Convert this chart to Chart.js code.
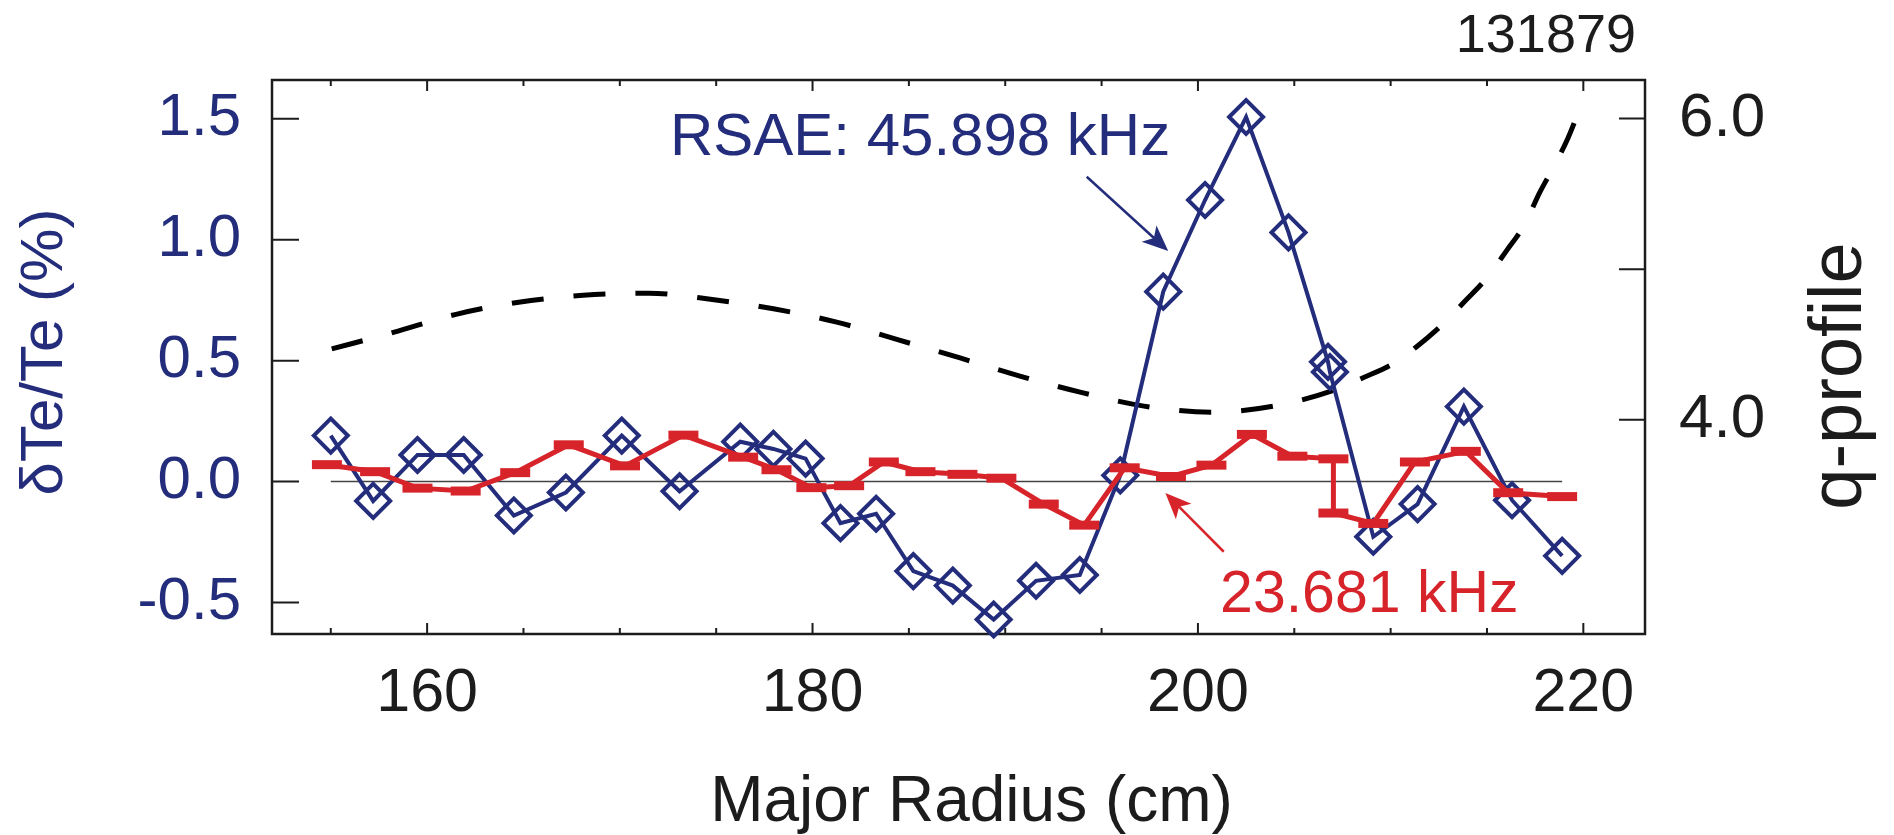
<!DOCTYPE html>
<html>
<head>
<meta charset="utf-8">
<script src="https://cdn.jsdelivr.net/npm/chart.js@4.4.1/dist/chart.umd.min.js"></script>
<style>
  html, body { margin: 0; padding: 0; background: #fff; }
  #wrap { width: 1894px; height: 835px; position: relative; }
</style>
</head>
<body>
<div id="wrap"><canvas id="chartTe"></canvas></div>
<script>
// shot 131879 : dTe/Te profiles and q-profile vs major radius
const rsaeRadius = [155.0, 157.2, 159.5, 161.9, 164.5, 167.2, 170.1, 173.1, 176.25, 177.97, 179.64, 181.45, 183.3, 185.23, 187.28, 189.4, 191.6, 193.87, 195.97, 198.2, 200.37, 202.5, 204.7, 206.75, 206.85, 209.1, 211.4, 213.8, 216.3, 218.9];
const rsaeDte    = [0.19, -0.08, 0.11, 0.11, -0.14, -0.045, 0.19, -0.04, 0.165, 0.135, 0.095, -0.172, -0.133, -0.37, -0.43, -0.57, -0.41, -0.386, 0.026, 0.785, 1.164, 1.507, 1.03, 0.495, 0.453, -0.228, -0.093, 0.31, -0.077, -0.307];

const lowRadius = [154.8, 157.3, 159.5, 162.0, 164.57, 167.35, 170.27, 173.3, 176.4, 178.13, 179.94, 181.9, 183.7, 185.6, 187.78, 189.8, 192.0, 194.1, 196.2, 198.6, 200.7, 202.8, 204.9, 207.03, 207.03, 209.1, 211.26, 213.9, 216.1, 218.9];
const lowDte    = [0.07, 0.041, -0.027, -0.039, 0.037, 0.152, 0.065, 0.192, 0.101, 0.049, -0.025, -0.017, 0.081, 0.041, 0.03, 0.014, -0.093, -0.18, 0.057, 0.021, 0.068, 0.195, 0.105, 0.094, -0.13, -0.173, 0.081, 0.125, -0.046, -0.062];

const qRadius = [155.05, 158.25, 161.5, 164.75, 168.1, 171.5, 174.7, 177.97, 181.2, 184.46, 187.66, 190.76, 193.99, 197.2, 200.7, 203.93, 207.16, 208.6, 210.1, 211.3, 212.75, 213.8, 214.98, 216.0, 216.97, 217.7, 218.46, 219.2, 219.95];
const qValues = [4.47, 4.58, 4.70, 4.78, 4.826, 4.84, 4.80, 4.737, 4.65, 4.53, 4.41, 4.29, 4.18, 4.09, 4.05, 4.09, 4.20, 4.28, 4.37, 4.48, 4.64, 4.78, 4.94, 5.12, 5.30, 5.50, 5.68, 5.87, 6.11];

const zeroRadius = [155.0, 218.9];
const zeroLevel  = [0, 0];

const xTickValues  = [155, 160, 165, 170, 175, 180, 185, 190, 195, 200, 205, 210, 215, 220];
const xLabelValues = [160, 180, 200, 220];
const dteTicks = [-0.5, 0.0, 0.5, 1.0, 1.5];
const qTicks   = [4.0, 5.0, 6.0];
const qLabels  = [4.0, 6.0];

const BLUE = "#232d7c";
const RED  = "#d7242a";
const INK  = "#1c1c1c";
const FONT = '"Liberation Sans", Arial, Helvetica, sans-serif';

const pts = (xs, ys) => xs.map((v, i) => ({ x: v, y: ys[i] }));

function arrow(ctx, x0, y0, x1, y1, color, width) {
  const ang = Math.atan2(y1 - y0, x1 - x0);
  const L = 26, W = 11;
  ctx.strokeStyle = color; ctx.fillStyle = color; ctx.lineWidth = width;
  ctx.beginPath();
  ctx.moveTo(x0, y0);
  ctx.lineTo(x1 - Math.cos(ang) * L * 0.7, y1 - Math.sin(ang) * L * 0.7);
  ctx.stroke();
  ctx.save();
  ctx.translate(x1, y1); ctx.rotate(ang);
  ctx.beginPath();
  ctx.moveTo(0, 0); ctx.lineTo(-L, -W); ctx.lineTo(-L * 0.75, 0); ctx.lineTo(-L, W);
  ctx.closePath(); ctx.fill();
  ctx.restore();
}

function text(ctx, str, px, py, size, color, align, rot) {
  ctx.save();
  ctx.translate(px, py);
  if (rot) ctx.rotate(rot);
  ctx.font = size + "px " + FONT;
  ctx.fillStyle = color;
  ctx.textAlign = align;
  ctx.textBaseline = "alphabetic";
  ctx.fillText(str, 0, 0);
  ctx.restore();
}

// frame, inward ticks, titles and annotations
const decor = {
  id: "decor",
  beforeDatasetsDraw(chart) {
    const { ctx, chartArea: a, scales: { x, y, y2 } } = chart;
    ctx.save();
    ctx.strokeStyle = INK;
    ctx.lineWidth = 2.5;
    ctx.strokeRect(a.left, a.top, a.right - a.left, a.bottom - a.top);
    ctx.lineWidth = 2;
    ctx.beginPath();
    xTickValues.forEach(v => {
      const px = x.getPixelForValue(v);
      const len = xLabelValues.includes(v) ? 11 : 6;
      ctx.moveTo(px, a.bottom); ctx.lineTo(px, a.bottom - len);
      ctx.moveTo(px, a.top);    ctx.lineTo(px, a.top + len);
    });
    dteTicks.forEach(v => {
      const py = y.getPixelForValue(v);
      ctx.moveTo(a.left, py); ctx.lineTo(a.left + 27, py);
    });
    qTicks.forEach(v => {
      const py = y2.getPixelForValue(v);
      ctx.moveTo(a.right, py); ctx.lineTo(a.right - 26, py);
    });
    ctx.stroke();
    ctx.restore();
  },
  afterDatasetsDraw(chart) {
    const { ctx, chartArea: a, scales: { x, y } } = chart;
    ctx.save();
    text(ctx, "RSAE: 45.898 kHz", x.getPixelForValue(172.6), y.getPixelForValue(1.349), 60, BLUE, "left");
    text(ctx, "23.681 kHz", x.getPixelForValue(201.15), y.getPixelForValue(-0.538), 59, RED, "left");
    arrow(ctx, x.getPixelForValue(194.23), y.getPixelForValue(1.26),
               x.getPixelForValue(198.46), y.getPixelForValue(0.953), BLUE, 2.5);
    arrow(ctx, x.getPixelForValue(201.34), y.getPixelForValue(-0.29),
               x.getPixelForValue(198.31), y.getPixelForValue(-0.047), RED, 2.5);
    text(ctx, "131879", a.right - 9, a.top - 28, 54, INK, "right");
    text(ctx, "Major Radius (cm)", (a.left + a.right) / 2 + 13, 821, 64, INK, "center");
    text(ctx, "\u03b4Te/Te (%)", 62, 352, 60, BLUE, "center", -Math.PI / 2);
    text(ctx, "q-profile", 1861, 376, 74, INK, "center", -Math.PI / 2);
    ctx.restore();
  }
};

new Chart(document.getElementById("chartTe"), {
  type: "line",
  data: {
    datasets: [
      {
        label: "23.681 kHz",
        data: pts(lowRadius, lowDte),
        yAxisID: "y",
        borderColor: RED, borderWidth: 5, tension: 0,
        pointStyle: "line", pointRadius: 15, pointBorderWidth: 9,
        pointBorderColor: RED, pointBackgroundColor: RED,
        order: 0, clip: false,
      },
      {
        label: "RSAE: 45.898 kHz",
        data: pts(rsaeRadius, rsaeDte),
        yAxisID: "y",
        borderColor: BLUE, borderWidth: 4, tension: 0,
        pointStyle: "rectRot", pointRadius: 17, pointBorderWidth: 4,
        pointBorderColor: BLUE, pointBackgroundColor: "rgba(0,0,0,0)",
        order: 1, clip: false,
      },
      {
        label: "zero",
        data: pts(zeroRadius, zeroLevel),
        yAxisID: "y",
        borderColor: "#444", borderWidth: 1.5, pointRadius: 0,
        order: 2,
      },
      {
        label: "q-profile",
        data: pts(qRadius, qValues),
        yAxisID: "y2",
        borderColor: "#000", borderWidth: 5, borderDash: [32, 30],
        pointRadius: 0, cubicInterpolationMode: "monotone",
        order: 3,
      },
    ]
  },
  options: {
    responsive: true,
    maintainAspectRatio: false,
    animation: false,
    layout: { padding: { top: 80, left: 0, right: 0, bottom: 0 } },
    plugins: { legend: { display: false }, tooltip: { enabled: false } },
    scales: {
      x: {
        type: "linear", min: 151.95, max: 223.2,
        grid: { display: false, drawTicks: false }, border: { display: false },
        afterBuildTicks: s => { s.ticks = xTickValues.map(v => ({ value: v })); },
        afterFit: s => { s.height = 201; },
        ticks: {
          autoSkip: false, maxRotation: 0, padding: 24, color: INK,
          font: { family: FONT, size: 61 },
          callback: v => xLabelValues.includes(v) ? String(v) : ""
        }
      },
      y: {
        position: "left", min: -0.63, max: 1.66,
        grid: { display: false, drawTicks: false }, border: { display: false },
        afterBuildTicks: s => { s.ticks = dteTicks.map(v => ({ value: v })); },
        afterFit: s => { s.width = 272; },
        ticks: {
          padding: 31, color: BLUE,
          font: { family: FONT, size: 60 },
          callback: v => v.toFixed(1)
        }
      },
      y2: {
        position: "right", min: 2.5765, max: 6.2564,
        grid: { display: false, drawTicks: false }, border: { display: false },
        afterBuildTicks: s => { s.ticks = qTicks.map(v => ({ value: v })); },
        afterFit: s => { s.width = 249; },
        ticks: {
          padding: 34, color: INK,
          font: { family: FONT, size: 62 },
          callback: v => qLabels.includes(v) ? v.toFixed(1) : ""
        }
      }
    }
  },
  plugins: [decor]
});
</script>
</body>
</html>
